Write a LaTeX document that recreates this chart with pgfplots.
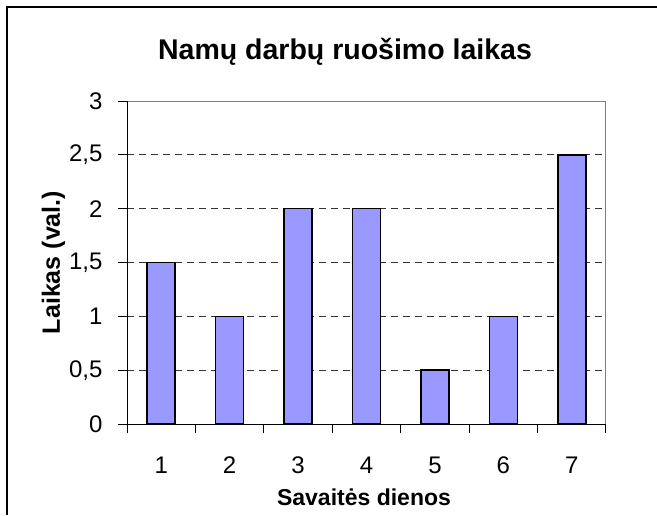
\documentclass[border=0pt]{standalone}
\usepackage{pgfplots}
\pgfplotsset{compat=1.18}
\usepackage{fontspec}
\setmainfont{Liberation Sans}
\definecolor{barc}{HTML}{9999FF}
\begin{document}
\begin{tikzpicture}[x=1pt,y=1pt]
\useasboundingbox (0,0) rectangle (657,515);
\draw[line width=1.5pt] (7,0) -- (7,508) -- (657,508);
\node[font=\fontsize{28.5}{30}\selectfont\bfseries, anchor=base] at (345,455) {Namų darbų ruošimo laikas};
\node[font=\fontsize{25}{27}\selectfont\bfseries, rotate=90] at (53.5,252.5) {Laikas (val.)};
\node[font=\fontsize{23}{25}\selectfont\bfseries, anchor=base] at (364,10) {Savaitės dienos};
\begin{axis}[
  at={(127pt,91pt)}, anchor=origin,
  scale only axis, width=479pt, height=323pt,
  xmin=0.5, xmax=7.5, ymin=0, ymax=3,
  ybar, bar width=28pt,
  axis line style={draw=gray, line width=1pt},
  xtick={1,...,7}, xticklabels={1,2,3,4,5,6,7},
  minor xtick={0.5,1.5,...,7.5},
  major x tick style={draw=none},
  minor x tick style={black, line width=1pt},
  minor tick length=9pt,
  ytick={0,0.5,...,3},
  yticklabels={0,{0,5},1,{1,5},2,{2,5},3},
  major y tick style={black, line width=1pt},
  major tick length=9pt,
  tick align=outside,
  xtick pos=bottom, ytick pos=left,
  ymajorgrids,
  grid style={black!80, line width=0.8pt, dash pattern=on 7pt off 5pt},
  tick label style={font=\fontsize{24}{26}\selectfont},
  xticklabel style={anchor=base, yshift=-40pt},
  yticklabel style={anchor=east, xshift=-12pt},
  /pgf/number format/assume math mode=true,
  clip=false,
]
\addplot[fill=barc, draw=black, line width=1.6pt] coordinates {(1,1.5) (2,1) (3,2) (4,2) (5,0.5) (6,1) (7,2.5)};
\draw[black, line width=1pt] (rel axis cs:0,0) -- (rel axis cs:1,0);
\draw[black, line width=1pt] (rel axis cs:0,0) -- (rel axis cs:0,1);
\end{axis}
\end{tikzpicture}
\end{document}
